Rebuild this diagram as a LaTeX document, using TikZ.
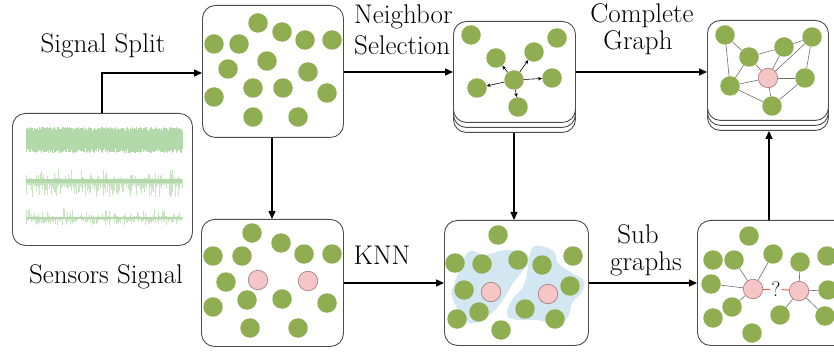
\documentclass[tikz,border=0pt]{standalone}
\usepackage{fontspec}
\usetikzlibrary{arrows.meta}
\definecolor{gr}{HTML}{8FAE52}
\definecolor{pkf}{HTML}{F6C6C6}
\definecolor{pkd}{HTML}{A07878}
\definecolor{blob}{HTML}{D3E7F3}
\definecolor{sigc}{HTML}{B3D9AA}
\definecolor{sigl}{HTML}{C9E4C2}
\definecolor{boxc}{HTML}{4D4D4D}
\definecolor{edgec}{HTML}{6E6E6E}
\definecolor{redc}{HTML}{E8503A}
\begin{document}
\begin{tikzpicture}[x=1pt,y=-1pt,
  panel/.style={draw=boxc, line width=0.9pt, rounded corners=13pt, fill=white},
  gc/.style={circle, fill=gr, minimum size=19.5pt, inner sep=0pt},
  pc/.style={circle, fill=pkf, draw=pkd, line width=0.6pt, minimum size=19.5pt, inner sep=0pt},
  flow/.style={draw=black, line width=1.3pt, -{Triangle[length=8pt,width=7pt]}},
  narr/.style={draw=black, line width=0.6pt, -{Stealth[length=4pt,width=3.5pt]}},
  gedge/.style={draw=edgec, line width=0.6pt},
  redge/.style={draw=redc, line width=0.9pt},
  lbl/.style={anchor=base, inner sep=0pt, font=\rmfamily\fontsize{27}{30}\selectfont},
  sig/.style={draw=sigc, line width=0.35pt},
  sigs/.style={draw=sigl, line width=0.35pt}]
\clip (0,0) rectangle (834,355);
\fill[white] (0,0) rectangle (834,355);

% ---------- signal box ----------
\node[panel, minimum width=180pt, minimum height=132pt, anchor=north west, inner sep=0pt] (sigbox) at (12,113) {};
\pgfmathsetseed{7}
\foreach \i in {0,...,380}{
  \pgfmathsetmacro\xx{26+\i*0.41}
  \pgfmathsetmacro\ua{127+5*rnd}
  \pgfmathsetmacro\da{153-5*rnd}
  \draw[sig] (\xx,\ua) -- (\xx,\da);
}
\foreach \i in {0,...,300}{
  \pgfmathsetmacro\xx{26+\i*0.52}
  \pgfmathsetmacro\ua{179.5-10*rnd^9}
  \pgfmathsetmacro\da{183.5+14*rnd^3}
  \draw[sigs] (\xx,\ua) -- (\xx,\da);
}
\fill[sigc] (26,179.5) rectangle (182,183.5);
\foreach \i in {0,...,300}{
  \pgfmathsetmacro\xx{26+\i*0.52}
  \pgfmathsetmacro\ua{217-9*rnd^9}
  \pgfmathsetmacro\da{219+6*rnd^3}
  \draw[sigs] (\xx,\ua) -- (\xx,\da);
}
\fill[sigc] (26,217) rectangle (182,219.2);

% ---------- panels ----------
\node[panel, minimum width=141pt, minimum height=132pt, anchor=north west, inner sep=0pt] (p1) at (202,5) {};
\node[panel, minimum width=142pt, minimum height=127pt, anchor=north west, inner sep=0pt] (p4) at (201,219) {};
% stacked panel 2
\node[panel, minimum width=122pt, minimum height=101pt, anchor=north west, inner sep=0pt] (p2c) at (453,31) {};
\node[panel, minimum width=122pt, minimum height=101pt, anchor=north west, inner sep=0pt] (p2b) at (453,26) {};
\node[panel, minimum width=122pt, minimum height=101pt, anchor=north west, inner sep=0pt] (p2) at (453,21) {};
% stacked panel 3
\node[panel, minimum width=121pt, minimum height=100pt, anchor=north west, inner sep=0pt] (p3c) at (707,30) {};
\node[panel, minimum width=121pt, minimum height=100pt, anchor=north west, inner sep=0pt] (p3b) at (707,25) {};
\node[panel, minimum width=121pt, minimum height=100pt, anchor=north west, inner sep=0pt] (p3) at (707,20) {};
\node[panel, minimum width=144pt, minimum height=125pt, anchor=north west, inner sep=0pt] (p5) at (444,220) {};
\node[panel, minimum width=155pt, minimum height=125pt, anchor=north west, inner sep=0pt] (p6) at (697,220) {};

% ---------- panel 1 circles ----------
\foreach \n/\x/\y in {1/258/23, 2/282/32, 3/214/44, 4/239/44, 5/305/40, 6/332/40, 7/267/61, 8/228/69,
  9/308/72, 10/253/88, 11/283/88, 12/214/97, 13/327/93, 14/253/117, 15/298/117}
  \node[gc] (a\n) at (\x,\y) {};

% ---------- panel 4 circles ----------
\foreach \n/\x/\y in {1/252/233, 2/281/243, 3/213/256, 4/242/256, 5/304/254, 6/332/254, 7/226/282,
  8/247/300, 9/282/299, 10/213/307, 11/327/303, 12/250/328, 13/298/328}
  \node[gc] (d\n) at (\x,\y) {};
\node[pc] (dp1) at (258,280) {};
\node[pc] (dp2) at (308,281) {};

% ---------- panel 2 ----------
\foreach \n/\x/\y in {1/471/35, 2/557/38, 3/496/58, 4/534/52, 5/552/78, 6/477/88, 7/518/107}
  \node[gc] (b\n) at (\x,\y) {};
\node[gc] (bc) at (514,80) {};
\foreach \n in {3,4,5,6,7} \draw[narr] (bc) -- (b\n);

% ---------- panel 3 ----------
\foreach \n/\x/\y in {a/725/35, b/812/37, c/784/47, d/749/57, e/730/86, f/805/78, g/772/106}
  \node[gc] (c\n) at (\x,\y) {};
\node[pc] (cp) at (768,78) {};
\foreach \s/\t in {a/e, a/d, d/e, d/c, c/b, b/f, b/p, c/p, d/p, e/p, p/f, e/g, g/f, p/g}
  \draw[gedge] (c\s) -- (c\t);

% ---------- panel 5 ----------
\fill[blob] plot[smooth cycle, tension=0.6] coordinates {(455,282) (468,252) (485,255) (505,250) (525,253) (528,263)
  (513,283) (505,297) (495,310) (482,320) (467,322) (452,297)};
\fill[blob] plot[smooth cycle, tension=0.6] coordinates {(532,248) (545,247) (555,253) (558,263) (572,273) (583,280)
  (582,292) (572,303) (568,317) (555,325) (538,320) (518,320) (507,315) (512,300) (523,287) (527,273)};
\foreach \n/\x/\y in {1/498/235, 2/455/263, 3/482/264, 4/518/260, 5/542/265, 6/573/256, 7/464/290,
  8/570/286, 9/479/312, 10/457/319, 11/525/309, 12/555/319, 13/501/330}
  \node[gc] (e\n) at (\x,\y) {};
\node[pc] (ep1) at (491,292) {};
\node[pc] (ep2) at (548,294) {};

% ---------- panel 6 ----------
\foreach \n/\x/\y in {1/749/236, 2/713/260, 3/734/260, 4/773/254, 5/800/262, 6/827/256, 7/711/284,
  8/828/290, 9/732/307, 10/713/318, 11/780/315, 12/825/316, 13/752/333}
  \node[gc] (f\n) at (\x,\y) {};
\node[pc] (fp1) at (753,289) {};
\node[pc] (fp2) at (799,291) {};
\node[inner sep=1pt, font=\rmfamily\fontsize{21}{22}\selectfont] (fq) at (776,289) {?};
\foreach \n in {7,3,4,9} \draw[gedge] (fp1) -- (f\n);
\foreach \n in {5,8,11,12} \draw[gedge] (fp2) -- (f\n);
\draw[redge] (fp1) -- (fq);
\draw[redge] (fq) -- (fp2);

% ---------- flow arrows ----------
\coordinate (sigtop) at (102,113);
\draw[flow] (sigtop) |- (p1.west |- 0,73);
\draw[flow] (p1.east |- 0,72) -- (p2.west |- 0,72);
\draw[flow] (p2.east |- 0,72) -- (p3.west |- 0,72);
\draw[flow] (p1.south -| 272,0) -- (p4.north -| 272,0);
\draw[flow] (p2c.south -| 514,0) -- (p5.north -| 514,0);
\draw[flow] (p4.east |- 0,283) -- (p5.west |- 0,283);
\draw[flow] (p5.east |- 0,283) -- (p6.west |- 0,283);
\draw[flow] (p6.north -| 769,0) -- (p3c.south -| 769,0);

% ---------- labels ----------
\node[lbl] (t1) at (103,53) {Signal Split};
\node[lbl, anchor=base west] (t2) at (354,24) {Neighbor};
\node[lbl, anchor=base west] (t3) at (354,55) {Selection};
\node[lbl] (t4) at (642,23) {Complete};
\node[lbl] (t5) at (638,50) {Graph};
\node[lbl] (t6) at (106,283) {Sensors Signal};
\node[lbl] (t7) at (382,264) {KNN};
\node[lbl] (t8) at (638,243) {Sub};
\node[lbl] (t9) at (646,270) {graphs};
\end{tikzpicture}
\end{document}
